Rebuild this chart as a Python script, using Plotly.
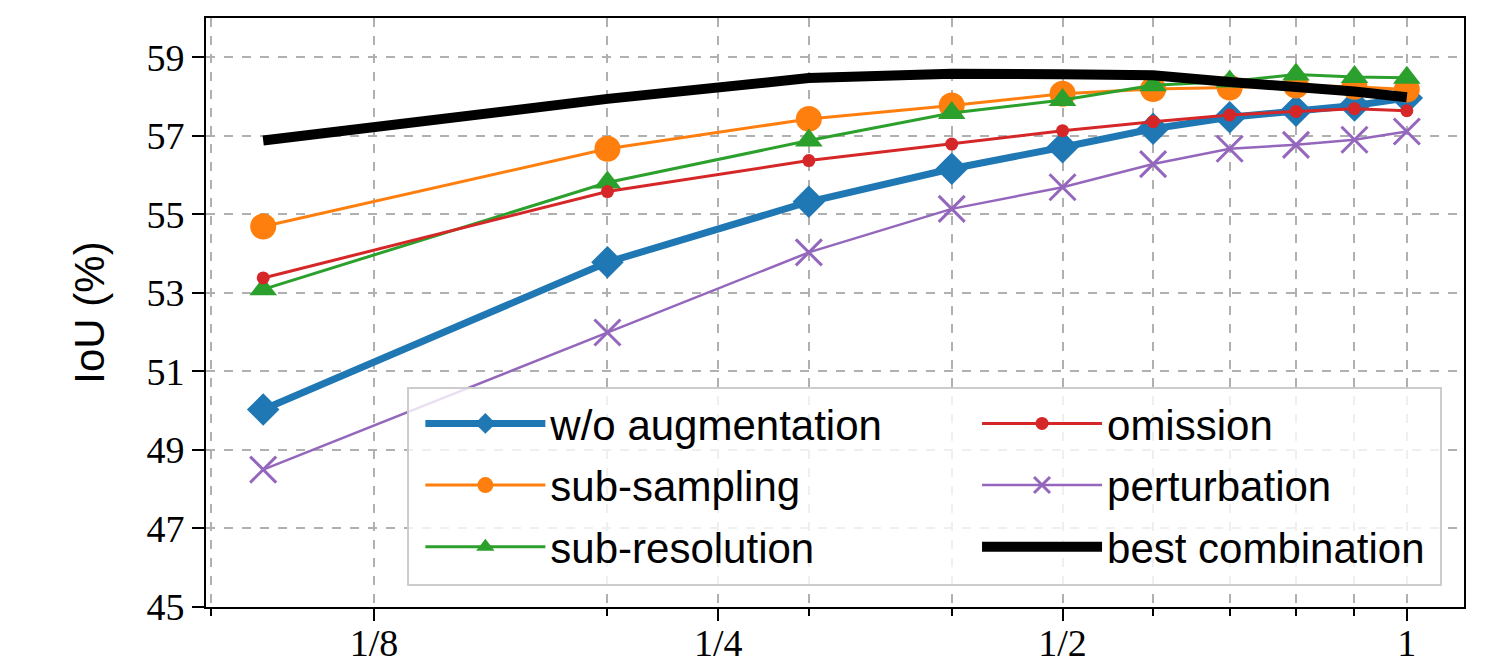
import plotly.graph_objects as go

x_frac = [0.1, 0.2, 0.3, 0.4, 0.5, 0.6, 0.7, 0.8, 0.9, 1.0]

wo_aug = [50.03, 53.78, 55.32, 56.16, 56.71, 57.18, 57.47, 57.64, 57.77, 57.96]
sub_sampling = [54.69, 56.67, 57.43, 57.77, 58.07, 58.19, 58.23, 58.28, 58.25, 58.18]
sub_resolution = [53.09, 55.81, 56.88, 57.58, 57.91, 58.29, 58.38, 58.56, 58.50, 58.48]
omission = [53.38, 55.58, 56.37, 56.79, 57.13, 57.36, 57.53, 57.62, 57.69, 57.64]
perturbation = [48.50, 51.99, 54.03, 55.14, 55.69, 56.28, 56.67, 56.77, 56.90, 57.11]
best_comb = [56.88, 57.94, 58.47, 58.58, 58.57, 58.54, 58.37, 58.27, 58.13, 57.98]

x_tickvals = [0.125, 0.25, 0.5, 1]
x_ticktext = ["1/8", "1/4", "1/2", "1"]
x_minor = [0.09, 0.2, 0.3, 0.4, 0.6, 0.7, 0.8, 0.9]

fig = go.Figure()

series = [
    ("w/o augmentation", wo_aug, "#1f77b4", 7, dict(symbol="diamond", size=25), "legend"),
    ("sub-sampling", sub_sampling, "#ff7f0e", 3, dict(symbol="circle", size=26), "legend"),
    ("sub-resolution", sub_resolution, "#2ca02c", 3, dict(symbol="triangle-up", size=24), "legend"),
    ("omission", omission, "#d62728", 3, dict(symbol="circle", size=13), "legend2"),
    ("perturbation", perturbation, "#9467bd", 2.5, dict(symbol="x-thin", size=26,
                                                       line=dict(width=3, color="#9467bd")), "legend2"),
]
for name, ys, col, lw, mk, lg in series:
    mk = dict(mk)
    mk["color"] = col
    fig.add_trace(go.Scatter(
        x=x_frac, y=ys, name=name, mode="lines+markers",
        line=dict(color=col, width=lw), marker=mk, legend=lg, legendgroup=name,
    ))

fig.add_trace(go.Scatter(
    x=x_frac, y=best_comb, name="best combination", mode="lines",
    line=dict(color="black", width=10), legend="legend2", legendgroup="best",
))

grid = dict(gridcolor="#b0b0b0", griddash="dash", gridwidth=2)

# legend frame (matplotlib-style translucent box)
fig.add_shape(type="rect", xref="paper", yref="paper",
              x0=0.1606, x1=0.9817, y0=0.0374, y1=0.3718,
              fillcolor="rgba(255,255,255,0.8)", line=dict(color="#cccccc", width=2),
              layer="above")

leg_common = dict(
    orientation="v", xanchor="left", yanchor="top",
    traceorder="grouped", tracegroupgap=4, itemwidth=120,
    font=dict(family="Liberation Sans", size=42),
    bgcolor="rgba(0,0,0,0)", borderwidth=0,
)

fig.update_layout(
    width=1494, height=664,
    margin=dict(l=206, r=30, t=18, b=57),
    paper_bgcolor="white", plot_bgcolor="white",
    font=dict(family="Liberation Sans", color="black"),
    xaxis=dict(
        type="log", range=[-1.05, 0.05], automargin=False,
        tickmode="array", tickvals=x_tickvals, ticktext=x_ticktext,
        tickfont=dict(family="Liberation Serif", size=38),
        ticks="outside", ticklen=12, tickwidth=2, tickcolor="black",
        ticklabelstandoff=-11,
        showline=True, linecolor="black", linewidth=2, mirror=True,
        showgrid=True, **grid,
        minor=dict(tickmode="array", tickvals=x_minor, ticks="outside",
                   ticklen=7, tickwidth=1.5, tickcolor="black",
                   showgrid=True, gridcolor="#b0b0b0", griddash="dash", gridwidth=2),
        zeroline=False,
    ),
    yaxis=dict(
        range=[45, 60], tick0=45, dtick=2, automargin=False,
        tickfont=dict(family="Liberation Serif", size=38),
        ticks="outside", ticklen=12, tickwidth=2, tickcolor="black",
        showline=True, linecolor="black", linewidth=2, mirror=True,
        showgrid=True, **grid, zeroline=False,
        title=dict(text="IoU (%)", font=dict(family="Liberation Sans", size=42), standoff=29),
    ),
    legend=dict(x=0.1704, y=0.369, **leg_common),
    legend2=dict(x=0.6129, y=0.369, **leg_common),
    showlegend=True,
)

fig.write_html("out.html")
